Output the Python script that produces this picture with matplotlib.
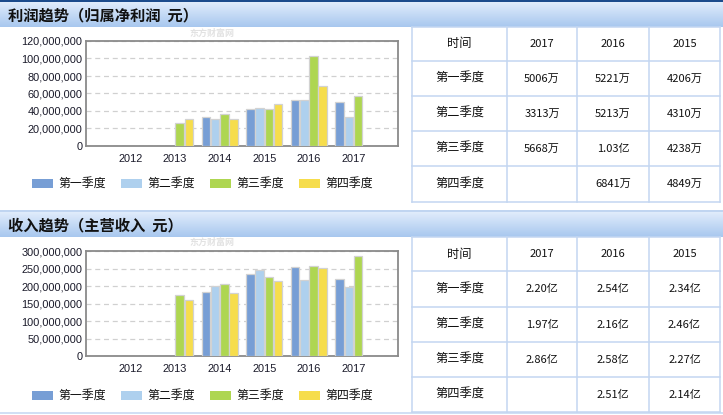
import numpy as np
import matplotlib
matplotlib.use('Agg')
import matplotlib.pyplot as plt
from matplotlib.patches import Rectangle
from matplotlib.ticker import FuncFormatter, MultipleLocator

# ---------------- data ----------------
years = ['2012', '2013', '2014', '2015', '2016', '2017']
quarters = ['第一季度', '第二季度', '第三季度', '第四季度']
nan = np.nan

profit_q1 = [nan, nan, 32.8e6, 42.06e6, 52.21e6, 50.06e6]
profit_q2 = [nan, nan, 30.5e6, 43.10e6, 52.13e6, 33.13e6]
profit_q3 = [nan, 26.6e6, 36.2e6, 42.38e6, 103.0e6, 56.68e6]
profit_q4 = [nan, 30.9e6, 30.9e6, 48.49e6, 68.41e6, nan]

revenue_q1 = [nan, nan, 182e6, 234e6, 254e6, 220e6]
revenue_q2 = [nan, nan, 199e6, 246e6, 216e6, 197e6]
revenue_q3 = [nan, 173e6, 205e6, 227e6, 258e6, 286e6]
revenue_q4 = [nan, 159e6, 179e6, 214e6, 251e6, nan]

table_header = ['时间', '2017', '2016', '2015']
profit_table = [['5006万', '5221万', '4206万'],
                ['3313万', '5213万', '4310万'],
                ['5668万', '1.03亿', '4238万'],
                ['', '6841万', '4849万']]
revenue_table = [['2.20亿', '2.54亿', '2.34亿'],
                 ['1.97亿', '2.16亿', '2.46亿'],
                 ['2.86亿', '2.58亿', '2.27亿'],
                 ['', '2.51亿', '2.14亿']]

colors = ['#779ED5', '#AED0EE', '#AED651', '#F6DD4C']
CJK = ['Noto Sans CJK SC', 'DejaVu Sans']
NUM = ['Liberation Sans', 'DejaVu Sans']

W, H = 723, 415
fig = plt.figure(figsize=(7.23, 4.15), dpi=100)
fig.patch.set_facecolor('white')
bg = fig.add_axes([0, 0, 1, 1])
bg.set_xlim(0, W)
bg.set_ylim(H, 0)
bg.axis('off')


def header(y0, y1, title, topcolor):
    n = int(y1 - y0)
    c0 = np.array([0xDF, 0xEB, 0xFB]) / 255
    c1 = np.array([0xA8, 0xC7, 0xEE]) / 255
    for i in range(n):
        t = i / (n - 1)
        bg.add_patch(Rectangle((0, y0 + i), W, 1.05, color=c0 * (1 - t) + c1 * t, lw=0))
    bg.add_patch(Rectangle((0, y0 - 2), W, 2, color=topcolor, lw=0))
    bg.text(8, (y0 + y1) / 2 + 0.5, title, fontsize=11, fontweight='bold',
            family=CJK, va='center', ha='left', color='#111111')


def table(rows_y, data):
    xs = [412, 507, 577, 649, 720]
    lc = '#C3D6F1'
    for x in xs:
        bg.plot([x, x], [rows_y[0], rows_y[-1]], color=lc, lw=1.1)
    for y in rows_y:
        bg.plot([xs[0], xs[-1]], [y, y], color=lc, lw=1.1)
    cells = [table_header] + [[quarters[i]] + data[i] for i in range(4)]
    for r, row in enumerate(cells):
        yc = (rows_y[r] + rows_y[r + 1]) / 2
        for c, txt in enumerate(row):
            xc = (xs[c] + xs[c + 1]) / 2
            fs = 8.8 if c == 0 else 8.0
            bg.text(xc, yc, txt, fontsize=fs, family=CJK, ha='center', va='center',
                    color='#111111')


def legend(yc):
    for i, q in enumerate(quarters):
        x0 = 32 + i * 89
        bg.add_patch(Rectangle((x0, yc - 4.5), 21, 9, color=colors[i], lw=0))
        bg.text(x0 + 26, yc, q, fontsize=8.6, family=CJK, va='center', ha='left',
                color='#111111')


def chart(top, values, ymax, step):
    ax = fig.add_axes([86 / W, 1 - (top + 105) / H, 312 / W, 105 / H])
    x = np.arange(len(years))
    for q in range(4):
        ax.bar(x + (q - 1.5) * 0.205, values[q], width=0.19, color=colors[q],
               edgecolor='#D2D2D2', linewidth=0.9, zorder=3)
    ax.set_xlim(-1, 6)
    ax.set_ylim(0, ymax)
    ax.yaxis.set_major_locator(MultipleLocator(step))
    ax.yaxis.set_major_formatter(FuncFormatter(lambda v, p: f'{int(round(v)):,}'))
    ax.set_xticks(x)
    ax.set_xticklabels(years)
    ax.grid(axis='y', color='#D0D0D0', linestyle=(0, (4, 3)), linewidth=0.9, zorder=0)
    for s in ax.spines.values():
        s.set_color('#8A8A8A')
        s.set_linewidth(1.3)
    ax.tick_params(axis='both', length=0, labelsize=7.9, colors='#1A1A2A')
    ax.tick_params(axis='y', pad=2.5)
    ax.tick_params(axis='x', pad=6)
    for lab in ax.get_xticklabels() + ax.get_yticklabels():
        lab.set_family(NUM)
    ax.set_facecolor('white')
    return ax


# ---------- top panel ----------
header(2, 27, '利润趋势（归属净利润  元）', '#1C4B8C')
bg.text(212, 33, '东方财富网', fontsize=6.5, family=CJK, color='#E2E2E2', ha='center',
        va='center', fontweight='bold')
chart(41, [profit_q1, profit_q2, profit_q3, profit_q4], 120e6, 20e6)
legend(183.5)
table([27, 61, 96, 131, 166, 202], profit_table)

# ---------- bottom panel ----------
header(212, 237, '收入趋势（主营收入  元）', '#C0D5F1')
bg.text(212, 242, '东方财富网', fontsize=6.5, family=CJK, color='#E2E2E2', ha='center',
        va='center', fontweight='bold')
chart(251, [revenue_q1, revenue_q2, revenue_q3, revenue_q4], 300e6, 50e6)
legend(395.5)
table([237, 271, 307, 342, 377, 412], revenue_table)
bg.plot([0, W], [412.5, 412.5], color='#C3D6F1', lw=1.1)

fig.savefig('out.png', dpi=100, facecolor='white')
